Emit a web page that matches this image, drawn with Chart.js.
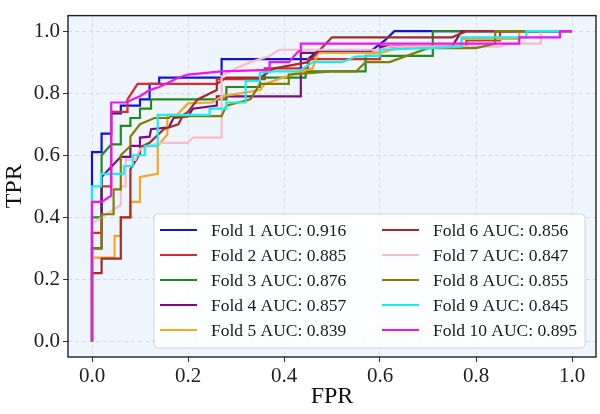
<!DOCTYPE html>
<html>
<head>
<meta charset="utf-8">
<script src="https://cdn.jsdelivr.net/npm/chart.js@4.4.0/dist/chart.umd.min.js"></script>
<style>
  html, body { margin: 0; padding: 0; background: #fff; }
  #wrap { width: 600px; height: 414px; }
</style>
</head>
<body>
<div id="wrap"><canvas id="roc" width="600" height="414"></canvas></div>
<script>
// ROC points per fold
const fpr1 = [0, 0, 0.02, 0.02, 0.04, 0.04, 0.06, 0.06, 0.10, 0.10, 0.12, 0.12, 0.14, 0.14, 0.27, 0.27, 0.45, 0.47, 0.58, 0.61, 0.63, 1];
const tpr1 = [0, 0.61, 0.61, 0.67, 0.67, 0.735, 0.735, 0.76, 0.76, 0.78, 0.78, 0.83, 0.83, 0.85, 0.85, 0.91, 0.91, 0.935, 0.935, 0.97, 1, 1];

const fpr2 = [0, 0, 0.02, 0.02, 0.04, 0.04, 0.074, 0.074, 0.095, 0.26, 0.26, 0.36, 0.36, 0.45, 0.45, 0.6, 0.6, 0.78, 0.78, 0.85, 0.85, 1];
const tpr2 = [0, 0.35, 0.35, 0.5, 0.5, 0.74, 0.74, 0.78, 0.83, 0.83, 0.845, 0.845, 0.88, 0.88, 0.91, 0.91, 0.95, 0.95, 0.97, 0.97, 1, 1];

const fpr3 = [0, 0, 0.02, 0.02, 0.04, 0.06, 0.06, 0.08, 0.08, 0.10, 0.10, 0.123, 0.123, 0.28, 0.28, 0.35, 0.35, 0.445, 0.445, 0.57, 0.57, 0.71, 0.71, 1];
const tpr3 = [0, 0.4, 0.4, 0.6, 0.635, 0.635, 0.695, 0.695, 0.72, 0.72, 0.75, 0.75, 0.78, 0.78, 0.82, 0.82, 0.85, 0.85, 0.87, 0.87, 0.92, 0.92, 1, 1];

const fpr4 = [0, 0, 0.02, 0.02, 0.06, 0.08, 0.08, 0.10, 0.10, 0.12, 0.123, 0.16, 0.17, 0.20, 0.21, 0.26, 0.26, 0.435, 0.435, 0.6, 0.6, 0.75, 0.77, 1];
const tpr4 = [0, 0.3, 0.3, 0.53, 0.595, 0.595, 0.63, 0.63, 0.657, 0.66, 0.684, 0.69, 0.72, 0.725, 0.75, 0.76, 0.79, 0.79, 0.93, 0.93, 0.95, 0.95, 1, 1];

const fpr5 = [0, 0, 0.047, 0.047, 0.06, 0.06, 0.08, 0.08, 0.10, 0.10, 0.137, 0.137, 0.157, 0.157, 0.177, 0.20, 0.25, 0.27, 0.35, 0.36, 0.43, 0.46, 0.47, 0.6, 0.65, 0.77, 0.77, 0.89, 0.89, 1];
const tpr5 = [0, 0.27, 0.27, 0.34, 0.34, 0.4, 0.4, 0.45, 0.45, 0.53, 0.54, 0.63, 0.667, 0.73, 0.73, 0.767, 0.77, 0.79, 0.81, 0.83, 0.867, 0.88, 0.93, 0.93, 0.95, 0.95, 0.975, 0.975, 1, 1];

const fpr6 = [0, 0, 0.02, 0.02, 0.06, 0.06, 0.08, 0.08, 0.10, 0.10, 0.12, 0.15, 0.18, 0.19, 0.20, 0.22, 0.26, 0.26, 0.28, 0.35, 0.38, 0.45, 0.50, 0.75, 0.78, 1];
const tpr6 = [0, 0.22, 0.22, 0.267, 0.267, 0.4, 0.4, 0.555, 0.605, 0.626, 0.64, 0.685, 0.70, 0.73, 0.74, 0.78, 0.81, 0.83, 0.85, 0.85, 0.88, 0.90, 0.98, 0.98, 1, 1];

const fpr7 = [0, 0, 0.02, 0.04, 0.06, 0.06, 0.07, 0.07, 0.09, 0.10, 0.14, 0.20, 0.21, 0.27, 0.27, 0.30, 0.33, 0.37, 0.39, 0.6, 0.62, 0.85, 0.87, 0.935, 0.935, 1];
const tpr7 = [0, 0.38, 0.40, 0.42, 0.44, 0.50, 0.50, 0.585, 0.585, 0.62, 0.64, 0.64, 0.657, 0.657, 0.855, 0.88, 0.90, 0.92, 0.94, 0.94, 0.95, 0.95, 0.96, 0.96, 1, 1];

const fpr8 = [0, 0, 0.02, 0.02, 0.045, 0.045, 0.06, 0.06, 0.08, 0.08, 0.10, 0.13, 0.16, 0.165, 0.27, 0.28, 0.33, 0.35, 0.41, 0.41, 0.5, 0.55, 0.57, 0.62, 0.7, 0.8, 0.84, 0.84, 1];
const tpr8 = [0, 0.3, 0.3, 0.41, 0.41, 0.49, 0.49, 0.6, 0.63, 0.66, 0.70, 0.72, 0.72, 0.726, 0.726, 0.76, 0.78, 0.83, 0.83, 0.86, 0.87, 0.87, 0.90, 0.90, 0.945, 0.945, 0.96, 1, 1];

const fpr9 = [0, 0, 0.019, 0.019, 0.067, 0.067, 0.085, 0.085, 0.11, 0.11, 0.137, 0.137, 0.245, 0.245, 0.28, 0.28, 0.32, 0.32, 0.35, 0.35, 0.38, 0.43, 0.45, 0.46, 0.52, 0.55, 0.6, 0.6, 0.7, 0.77, 0.77, 0.905, 0.905, 1];
const tpr9 = [0, 0.5, 0.5, 0.54, 0.54, 0.565, 0.565, 0.6, 0.6, 0.63, 0.63, 0.73, 0.73, 0.75, 0.75, 0.77, 0.77, 0.84, 0.84, 0.866, 0.87, 0.87, 0.89, 0.90, 0.90, 0.918, 0.92, 0.94, 0.945, 0.95, 0.98, 0.98, 1, 1];

const fpr10 = [0, 0, 0.02, 0.04, 0.04, 0.07, 0.10, 0.12, 0.14, 0.18, 0.20, 0.27, 0.37, 0.37, 0.41, 0.43, 0.435, 0.435, 0.89, 0.89, 0.975, 0.975, 1];
const tpr10 = [0, 0.45, 0.45, 0.47, 0.77, 0.77, 0.79, 0.81, 0.82, 0.85, 0.86, 0.87, 0.875, 0.90, 0.90, 0.935, 0.935, 0.96, 0.96, 0.98, 0.98, 1, 1];

const foldLabels = [
  "Fold 1 AUC: 0.916", "Fold 2 AUC: 0.885", "Fold 3 AUC: 0.876", "Fold 4 AUC: 0.857", "Fold 5 AUC: 0.839",
  "Fold 6 AUC: 0.856", "Fold 7 AUC: 0.847", "Fold 8 AUC: 0.855", "Fold 9 AUC: 0.845", "Fold 10 AUC: 0.895"
];
const foldColors = ["#1414c8", "#dd2a2a", "#238a23", "#7a0f7a", "#f5a623", "#a52a2a", "#f8bcc8", "#808000", "#19eeee", "#f014f0"];
const xTicks = [0, 0.2, 0.4, 0.6, 0.8, 1.0];
const yTicks = [0, 0.2, 0.4, 0.6, 0.8, 1.0];

const fprs = [fpr1, fpr2, fpr3, fpr4, fpr5, fpr6, fpr7, fpr8, fpr9, fpr10];
const tprs = [tpr1, tpr2, tpr3, tpr4, tpr5, tpr6, tpr7, tpr8, tpr9, tpr10];

const serif = "'Liberation Serif', 'Times New Roman', serif";

const datasets = fprs.map(function (f, i) {
    return {
        label: foldLabels[i],
        data: f.map(function (x, k) { return { x: x, y: tprs[i][k] }; }),
        showLine: true,
        borderColor: foldColors[i],
        backgroundColor: foldColors[i],
        borderWidth: 2.2,
        pointRadius: 0,
        fill: false,
        tension: 0,
        order: 10 - i
    };
});

// plot area background + frame
const framePlugin = {
    id: "frame",
    beforeDraw: function (chart) {
        const a = chart.chartArea, c = chart.ctx;
        c.save();
        c.fillStyle = "#eef5fc";
        c.fillRect(a.left, a.top, a.right - a.left, a.bottom - a.top);
        c.restore();
    },
    afterDraw: function (chart) {
        const a = chart.chartArea, c = chart.ctx;
        c.save();
        c.strokeStyle = "#222";
        c.lineWidth = 1.4;
        c.strokeRect(a.left, a.top, a.right - a.left, a.bottom - a.top);
        c.restore();
    }
};

// two-column legend, column-major like matplotlib ncol=2
const legendPlugin = {
    id: "foldLegend",
    afterDraw: function (chart) {
        const c = chart.ctx;
        const box = { x: 154, y: 214, w: 431, h: 134 };
        c.save();
        c.beginPath();
        c.roundRect(box.x, box.y, box.w, box.h, 4);
        c.fillStyle = "rgba(255,255,255,0.85)";
        c.fill();
        c.strokeStyle = "#d4d4d4";
        c.lineWidth = 1;
        c.stroke();
        c.font = "17.5px " + serif;
        c.textBaseline = "middle";
        c.fillStyle = "#1a1a1a";
        const cols = [{ lx: 160, tx: 211 }, { lx: 382, tx: 433 }];
        chart.data.datasets.forEach(function (ds, i) {
            const col = cols[Math.floor(i / 5)];
            const y = 230 + (i % 5) * 25;
            c.beginPath();
            c.moveTo(col.lx, y);
            c.lineTo(col.lx + 37, y);
            c.strokeStyle = ds.borderColor;
            c.lineWidth = 1.8;
            c.stroke();
            c.fillText(ds.label, col.tx, y + 1);
        });
        c.restore();
    }
};

function axis(ticks, title, fitSize, horizontal) {
    return {
        type: "linear",
        min: -0.05,
        max: 1.05,
        afterBuildTicks: function (s) {
            s.ticks = ticks.map(function (v) { return { value: v }; });
        },
        afterFit: function (s) {
            if (horizontal) { s.height = fitSize; } else { s.width = fitSize; }
        },
        ticks: {
            autoSkip: false,
            maxRotation: 0,
            padding: horizontal ? 2 : 3,
            color: "#222",
            font: { family: serif, size: 21 },
            callback: function (v) { return Number(v).toFixed(1); }
        },
        grid: {
            color: "rgba(190,200,212,0.55)",
            lineWidth: 1,
            tickColor: "#333",
            tickLength: 5,
            tickWidth: 1
        },
        border: { display: false, dash: [4, 3] },
        title: {
            display: true,
            text: title,
            color: "#111",
            font: { family: serif, size: 24 },
            padding: horizontal ? { top: 3, bottom: 3 } : 0
        }
    };
}

new Chart(document.getElementById("roc"), {
    type: "scatter",
    data: { datasets: datasets },
    options: {
        responsive: false,
        animation: false,
        layout: { padding: { top: 4, right: 4, left: 0, bottom: 0 } },
        plugins: { legend: { display: false }, tooltip: { enabled: false } },
        scales: {
            x: axis(xTicks, "FPR", 57, true),
            y: axis(yTicks, "TPR", 68, false)
        }
    },
    plugins: [framePlugin, legendPlugin]
});
</script>
</body>
</html>
